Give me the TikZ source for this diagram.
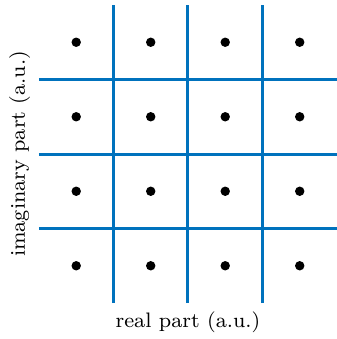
\documentclass[tikz,border=0pt]{standalone}
\usepackage{tikz}
\definecolor{gridblue}{RGB}{0,114,189}

\begin{document}
\begin{tikzpicture}[
  x=1cm, y=1cm,
  gridline/.style={draw=gridblue, line width=1.15pt},
  symbol/.style={circle, fill=black, inner sep=0pt, minimum size=3.6pt},
  axislabel/.style={font=\footnotesize}
]
  \useasboundingbox (-0.523,-0.483) rectangle (4.0,4.067);

  % decision boundaries
  \foreach \k in {1,2,3} {
    \coordinate (vb\k) at (\k,0);
    \coordinate (vt\k) at (\k,4);
    \coordinate (hl\k) at (0,\k);
    \coordinate (hr\k) at (4,\k);
    \draw[gridline] (vb\k) -- (vt\k);
    \draw[gridline] (hl\k) -- (hr\k);
  }

  % constellation points
  \foreach \i in {1,...,4} {
    \foreach \j in {1,...,4} {
      \node[symbol] (p\i\j) at (\i-0.5,\j-0.5) {};
    }
  }

  \node[axislabel] (xlab) at (2,-0.26) {real part (a.u.)};
  \node[axislabel, rotate=90] (ylab) at (-0.26,2) {imaginary part (a.u.)};
\end{tikzpicture}
\end{document}
